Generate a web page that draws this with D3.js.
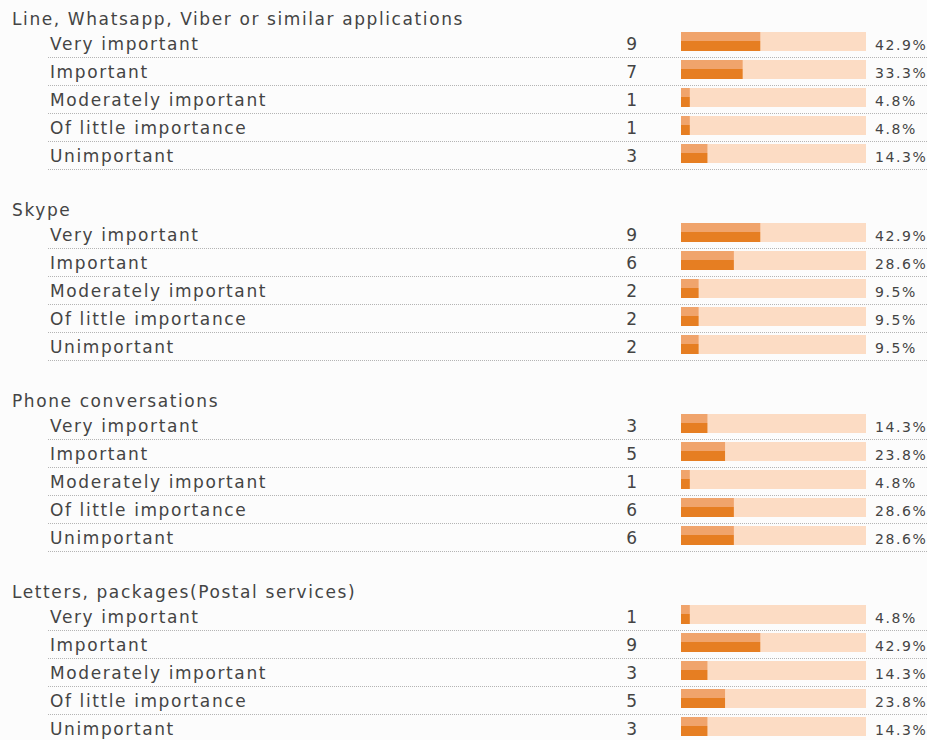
<!DOCTYPE html>
<html>
<head>
<meta charset="utf-8">
<script src="https://cdn.jsdelivr.net/npm/d3@7"></script>
<style>
  html, body { margin: 0; padding: 0; background: #fcfcfc; }
  svg { display: block; }
  text { font-family: "DejaVu Sans", sans-serif; fill: #444; }
</style>
</head>
<body>
<div id="chart"></div>
<script>
const groups = [
  "Line, Whatsapp, Viber or similar applications",
  "Skype",
  "Phone conversations",
  "Letters, packages(Postal services)"
];
const answers = ["Very important", "Important", "Moderately important", "Of little importance", "Unimportant"];
const lineCounts   = [9, 7, 1, 1, 3];
const skypeCounts  = [9, 6, 2, 2, 2];
const phoneCounts  = [3, 5, 1, 6, 6];
const postalCounts = [1, 9, 3, 5, 3];
const allCounts = [lineCounts, skypeCounts, phoneCounts, postalCounts];

const width = 927, height = 740;
const groupStep = 191, rowStep = 28, firstRow = 25;

const svg = d3.select("#chart").append("svg")
  .attr("width", width)
  .attr("height", height);

const x = d3.scaleLinear().domain([0, 1]).range([681, 866]);
const fmt = d3.format(".1%");

allCounts.forEach((counts, gi) => {
  const total = d3.sum(counts);
  const g = svg.append("g").attr("transform", `translate(0,${gi * groupStep})`);

  g.append("text")
    .attr("x", 12)
    .attr("y", 25)
    .style("font-size", "17px")
    .style("letter-spacing", "1.6px")
    .text(groups[gi]);

  const rows = g.selectAll("g.row")
    .data(counts.map((c, i) => ({ label: answers[i], count: c, share: c / total })))
    .enter().append("g")
    .attr("class", "row")
    .attr("transform", (d, i) => `translate(0,${firstRow + i * rowStep})`);

  rows.append("line")
    .attr("x1", 48).attr("x2", width)
    .attr("y1", 32.5).attr("y2", 32.5)
    .attr("stroke", "#b4b4b4")
    .attr("shape-rendering", "crispEdges")
    .attr("stroke-dasharray", "1,1");

  rows.append("text")
    .attr("x", 50)
    .attr("y", 25)
    .style("font-size", "17px")
    .style("letter-spacing", "1.6px")
    .text(d => d.label);

  rows.append("text")
    .attr("x", 637)
    .attr("y", 25)
    .attr("text-anchor", "end")
    .style("font-size", "17px")
    .text(d => d.count);

  rows.append("rect")
    .attr("x", x(0)).attr("y", 7)
    .attr("width", x(1) - x(0)).attr("height", 19)
    .attr("fill", "#fcdcc4");

  rows.append("rect")
    .attr("x", x(0)).attr("y", 7)
    .attr("width", d => x(d.share) - x(0)).attr("height", 9)
    .attr("fill", "#f0a46c");

  rows.append("rect")
    .attr("x", x(0)).attr("y", 16)
    .attr("width", d => x(d.share) - x(0)).attr("height", 10)
    .attr("fill", "#e67e22");

  rows.append("text")
    .attr("x", 875)
    .attr("y", 25)
    .style("font-size", "14px")
    .style("letter-spacing", "1.6px")
    .text(d => fmt(d.share));
});
</script>
</body>
</html>
